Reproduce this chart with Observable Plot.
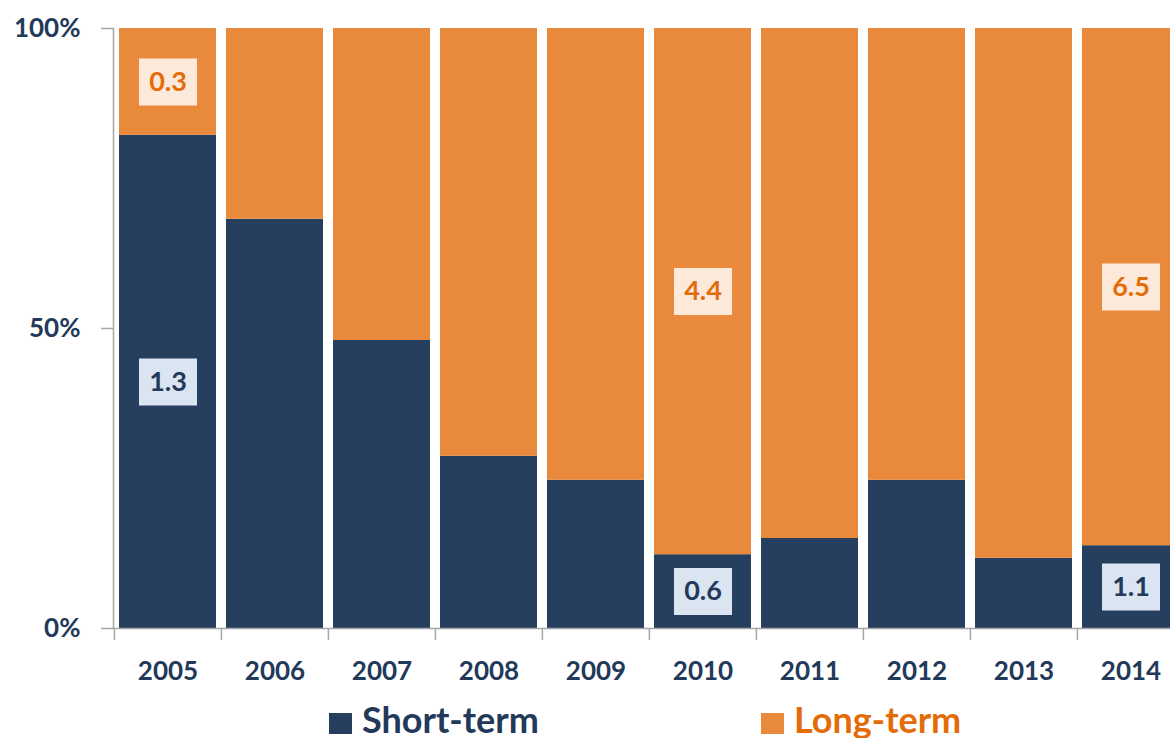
<!DOCTYPE html>
<html>
<head>
<meta charset="utf-8">
<script src="https://cdn.jsdelivr.net/npm/d3@7"></script>
<script src="https://cdn.jsdelivr.net/npm/@observablehq/plot@0.6"></script>
<style>
  html, body { margin: 0; padding: 0; background: #fff; overflow: hidden; width: 1170px; height: 738px; }
  body { font-family: Lato, "Open Sans", sans-serif; }
  #chart { width: 1170px; height: 700px; overflow: hidden; }
  #chart svg { max-width: none !important; }
  #legend { position: relative; height: 38px; width: 1170px; }
  .sw { position: absolute; top: 13px; width: 23px; height: 21px; }
  .lt { position: absolute; top: 1px; font-size: 36px; line-height: 36px; font-weight: 700; white-space: nowrap; }
</style>
</head>
<body>
<div id="chart"></div>
<div id="legend"></div>
<script>
// ---- data ----
const years = [2005, 2006, 2007, 2008, 2009, 2010, 2011, 2012, 2013, 2014];
const shortShare = [0.822, 0.682, 0.480, 0.287, 0.247, 0.123, 0.150, 0.247, 0.117, 0.138];
const seriesNames = ["Short-term", "Long-term"];
const labelYears = [2005, 2010, 2014];
const shortLabels = [1.3, 0.6, 1.1];
const longLabels = [0.3, 4.4, 6.5];
const yTicks = [0, 0.5, 1];

// ---- styles ----
const NAVY = "#263f5f", ORANGE = "#e8893b";
const TEXT_NAVY = "#22395a", TEXT_ORANGE = "#e36c09";
const BOX_BLUE = "#dbe5f1", BOX_PEACH = "#fde9d9";
const AXIS = "#a6a6a6";

// segments derived from the shares
const segments = [];
years.forEach((yr, i) => {
  segments.push({year: yr, type: seriesNames[0], y1: 0, y2: shortShare[i]});
  segments.push({year: yr, type: seriesNames[1], y1: shortShare[i], y2: 1});
});
const labels = [];
labelYears.forEach((yr, j) => {
  const s = shortShare[years.indexOf(yr)];
  labels.push({year: yr, type: seriesNames[0], mid: s / 2, text: shortLabels[j].toFixed(1)});
  labels.push({year: yr, type: seriesNames[1], mid: (s + 1) / 2, text: longLabels[j].toFixed(1)});
});

const W = 1185, ML = 113, MR = 0, PI = 0.09, PO = 0.045;
const step = (W - ML - MR) / (years.length - PI + 2 * PO);

const boxSymbol = {
  draw(ctx) { ctx.rect(-29, -23.5, 58, 47); }
};

const font = {fontFamily: "Lato, 'Open Sans', sans-serif", fontWeight: 700};

const chart = Plot.plot({
  width: W,
  height: 700,
  marginLeft: ML,
  marginRight: MR,
  marginTop: 28,
  marginBottom: 72,
  style: {fontFamily: "Lato, 'Open Sans', sans-serif", background: "#fff", maxWidth: "none"},
  x: {type: "band", domain: years, paddingInner: PI, paddingOuter: PO, axis: null, label: null},
  y: {domain: [0, 1], axis: null, label: null},
  color: {domain: seriesNames, range: [NAVY, ORANGE]},
  marks: [
    Plot.barY(segments, {x: "year", y1: "y1", y2: "y2", fill: "type"}),
    Plot.dot(labels, {x: "year", y: "mid", symbol: boxSymbol, r: 10,
      fill: d => d.type === seriesNames[0] ? BOX_BLUE : BOX_PEACH}),
    Plot.text(labels, {x: "year", y: "mid", text: "text", fontSize: 27, ...font,
      fill: d => d.type === seriesNames[0] ? TEXT_NAVY : TEXT_ORANGE}),
    Plot.frame({anchor: "left", stroke: AXIS, strokeWidth: 1.5}),
    Plot.frame({anchor: "bottom", stroke: AXIS, strokeWidth: 1.5}),
    Plot.axisY({ticks: yTicks, tickSize: 12, tickPadding: 21, tickFormat: d3.format(".0%"),
      label: null, stroke: AXIS, strokeWidth: 1.5, fill: TEXT_NAVY, fontSize: 26, ...font}),
    Plot.axisX({tickSize: 12, dx: -step / 2, tickFormat: () => "", label: null,
      stroke: AXIS, strokeWidth: 1.5}),
    Plot.axisX({tickSize: 0, tickPadding: 33, tickFormat: d => String(d), label: null,
      fill: TEXT_NAVY, fontSize: 26, ...font})
  ]
});
document.getElementById("chart").appendChild(chart);

// legend
const legend = document.getElementById("legend");
const legendItems = [
  {name: seriesNames[0], sw: NAVY, tc: TEXT_NAVY, left: 329},
  {name: seriesNames[1], sw: ORANGE, tc: TEXT_ORANGE, left: 761}
];
legendItems.forEach(it => {
  const s = document.createElement("div");
  s.className = "sw"; s.style.left = it.left + "px"; s.style.background = it.sw;
  const t = document.createElement("div");
  t.className = "lt"; t.style.left = (it.left + 33) + "px"; t.style.color = it.tc;
  t.textContent = it.name;
  legend.appendChild(s); legend.appendChild(t);
});
</script>
</body>
</html>
